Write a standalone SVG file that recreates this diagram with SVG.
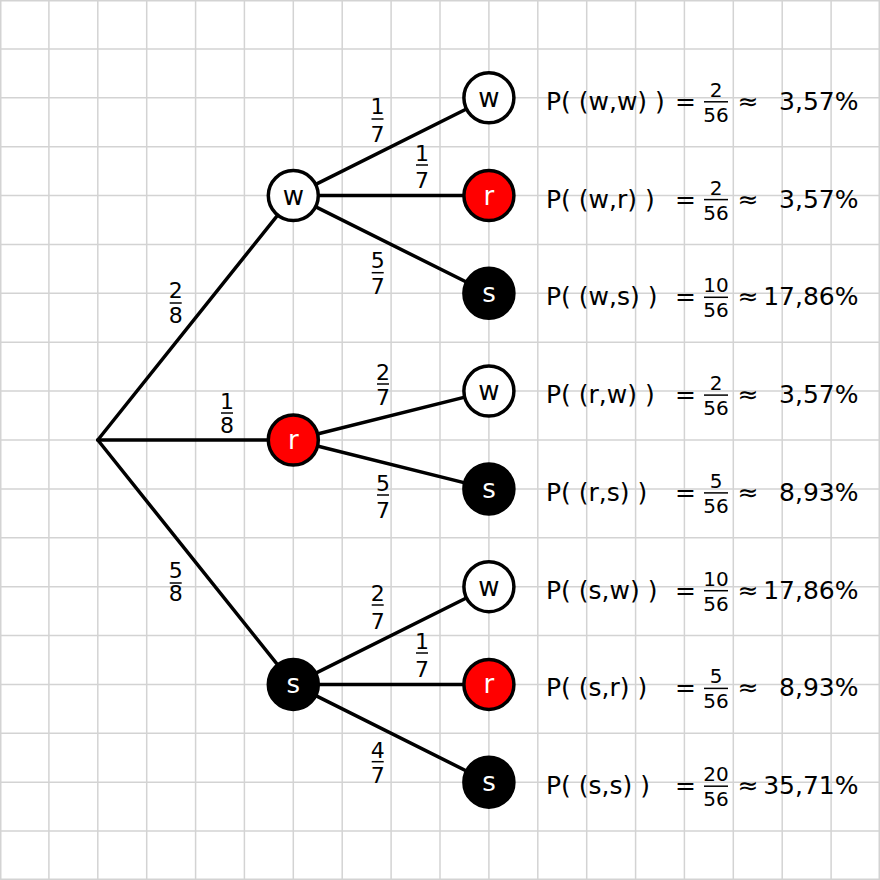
<svg xmlns="http://www.w3.org/2000/svg" width="880" height="880" viewBox="0 0 880 880">
<style>
.grid line{stroke:#d3d3d3;stroke-width:1.5}
.edges line{stroke:#000;stroke-width:3.5;stroke-linecap:round}
.bar{stroke:#000;stroke-width:1.5}
circle{stroke:#000;stroke-width:3.5}
.w{fill:#fff}.r{fill:#ff0000}.s{fill:#000}
text{font-family:"DejaVu Sans","Liberation Sans",sans-serif}
.nl{font-size:26px;text-anchor:middle}
.nlw{fill:#000}.nlc{fill:#fff}
.ef{font-size:22px;text-anchor:middle}
.rt{font-size:25px}
.rf{font-size:20px;text-anchor:middle}
.pc{font-size:25px;text-anchor:end}
.eq{font-size:25px;text-anchor:middle}
</style>
<rect width="880" height="880" fill="#fff"/>
<g class="grid">
<line x1="0.75" y1="0" x2="0.75" y2="880"/><line x1="48.9" y1="0" x2="48.9" y2="880"/><line x1="97.8" y1="0" x2="97.8" y2="880"/><line x1="146.7" y1="0" x2="146.7" y2="880"/><line x1="195.6" y1="0" x2="195.6" y2="880"/><line x1="244.4" y1="0" x2="244.4" y2="880"/><line x1="293.3" y1="0" x2="293.3" y2="880"/><line x1="342.2" y1="0" x2="342.2" y2="880"/><line x1="391.1" y1="0" x2="391.1" y2="880"/><line x1="440" y1="0" x2="440" y2="880"/><line x1="488.9" y1="0" x2="488.9" y2="880"/><line x1="537.8" y1="0" x2="537.8" y2="880"/><line x1="586.7" y1="0" x2="586.7" y2="880"/><line x1="635.6" y1="0" x2="635.6" y2="880"/><line x1="684.4" y1="0" x2="684.4" y2="880"/><line x1="733.3" y1="0" x2="733.3" y2="880"/><line x1="782.2" y1="0" x2="782.2" y2="880"/><line x1="831.1" y1="0" x2="831.1" y2="880"/><line x1="879.25" y1="0" x2="879.25" y2="880"/>
<line y1="0.75" x1="0" y2="0.75" x2="880"/><line y1="48.9" x1="0" y2="48.9" x2="880"/><line y1="97.8" x1="0" y2="97.8" x2="880"/><line y1="146.7" x1="0" y2="146.7" x2="880"/><line y1="195.6" x1="0" y2="195.6" x2="880"/><line y1="244.4" x1="0" y2="244.4" x2="880"/><line y1="293.3" x1="0" y2="293.3" x2="880"/><line y1="342.2" x1="0" y2="342.2" x2="880"/><line y1="391.1" x1="0" y2="391.1" x2="880"/><line y1="440" x1="0" y2="440" x2="880"/><line y1="488.9" x1="0" y2="488.9" x2="880"/><line y1="537.8" x1="0" y2="537.8" x2="880"/><line y1="586.7" x1="0" y2="586.7" x2="880"/><line y1="635.6" x1="0" y2="635.6" x2="880"/><line y1="684.4" x1="0" y2="684.4" x2="880"/><line y1="733.3" x1="0" y2="733.3" x2="880"/><line y1="782.2" x1="0" y2="782.2" x2="880"/><line y1="831.1" x1="0" y2="831.1" x2="880"/><line y1="879.25" x1="0" y2="879.25" x2="880"/>
</g>
<g class="edges">
<line x1="97.8" y1="440" x2="293.3" y2="195.6"/>
<line x1="97.8" y1="440" x2="293.3" y2="440"/>
<line x1="97.8" y1="440" x2="293.3" y2="684.4"/>
<line x1="293.3" y1="195.6" x2="488.9" y2="97.8"/>
<line x1="293.3" y1="195.6" x2="488.9" y2="195.6"/>
<line x1="293.3" y1="195.6" x2="488.9" y2="293.3"/>
<line x1="293.3" y1="440" x2="488.9" y2="391.1"/>
<line x1="293.3" y1="440" x2="488.9" y2="488.9"/>
<line x1="293.3" y1="684.4" x2="488.9" y2="586.7"/>
<line x1="293.3" y1="684.4" x2="488.9" y2="684.4"/>
<line x1="293.3" y1="684.4" x2="488.9" y2="782.2"/>
</g>
<g id="edge-labels">
<g><text class="ef" x="377.5" y="113.5">1</text><line class="bar" x1="371.5" y1="119" x2="383.5" y2="119"/><text class="ef" x="377.5" y="141.5">7</text></g>
<g><text class="ef" x="422" y="160.5">1</text><line class="bar" x1="416" y1="165" x2="428" y2="165"/><text class="ef" x="422" y="187.5">7</text></g>
<g><text class="ef" x="377.7" y="267.7">5</text><line class="bar" x1="371.7" y1="272.7" x2="383.7" y2="272.7"/><text class="ef" x="377.7" y="294">7</text></g>
<g><text class="ef" x="175.7" y="298">2</text><line class="bar" x1="169.7" y1="303" x2="181.7" y2="303"/><text class="ef" x="175.7" y="323">8</text></g>
<g><text class="ef" x="227" y="409">1</text><line class="bar" x1="221" y1="413" x2="233" y2="413"/><text class="ef" x="227" y="433">8</text></g>
<g><text class="ef" x="175.7" y="578">5</text><line class="bar" x1="169.7" y1="583" x2="181.7" y2="583"/><text class="ef" x="175.7" y="601">8</text></g>
<g><text class="ef" x="383" y="380">2</text><line class="bar" x1="377" y1="384" x2="389" y2="384"/><text class="ef" x="383" y="405">7</text></g>
<g><text class="ef" x="383" y="491">5</text><line class="bar" x1="377" y1="495" x2="389" y2="495"/><text class="ef" x="383" y="518">7</text></g>
<g><text class="ef" x="377.7" y="601">2</text><line class="bar" x1="371.7" y1="605" x2="383.7" y2="605"/><text class="ef" x="377.7" y="629">7</text></g>
<g><text class="ef" x="422" y="649">1</text><line class="bar" x1="416" y1="653" x2="428" y2="653"/><text class="ef" x="422" y="676.5">7</text></g>
<g><text class="ef" x="377.7" y="757.5">4</text><line class="bar" x1="371.7" y1="761.7" x2="383.7" y2="761.7"/><text class="ef" x="377.7" y="783">7</text></g>
</g>
<g id="n-w"><circle class="w" cx="293.3" cy="195.6" r="25"/><text class="nl nlw" x="293.3" y="204.5">w</text></g>
<g id="n-r"><circle class="r" cx="293.3" cy="440" r="25"/><text class="nl nlc" x="293.3" y="449">r</text></g>
<g id="n-s"><circle class="s" cx="293.3" cy="684.4" r="25"/><text class="nl nlc" x="293.3" y="693.4">s</text></g>
<g id="n-ww"><circle class="w" cx="488.9" cy="97.8" r="25"/><text class="nl nlw" x="488.9" y="106.8">w</text></g>
<g id="n-wr"><circle class="r" cx="488.9" cy="195.6" r="25"/><text class="nl nlc" x="488.9" y="204.6">r</text></g>
<g id="n-ws"><circle class="s" cx="488.9" cy="293.3" r="25"/><text class="nl nlc" x="488.9" y="302.3">s</text></g>
<g id="n-rw"><circle class="w" cx="488.9" cy="391.1" r="25"/><text class="nl nlw" x="488.9" y="400.1">w</text></g>
<g id="n-rs"><circle class="s" cx="488.9" cy="488.9" r="25"/><text class="nl nlc" x="488.9" y="497.9">s</text></g>
<g id="n-sw"><circle class="w" cx="488.9" cy="586.7" r="25"/><text class="nl nlw" x="488.9" y="595.7">w</text></g>
<g id="n-sr"><circle class="r" cx="488.9" cy="684.4" r="25"/><text class="nl nlc" x="488.9" y="693.4">r</text></g>
<g id="n-ss"><circle class="s" cx="488.9" cy="782.2" r="25"/><text class="nl nlc" x="488.9" y="791.2">s</text></g>
<g id="results">
<g transform="translate(0,97.8)"><text class="rt" x="546" y="12">P( (w,w) )</text><text class="eq" x="685.5" y="12">=</text><text class="rf" x="716" y="-1">2</text><line class="bar" x1="704" y1="4" x2="728" y2="4"/><text class="rf" x="716" y="24">56</text><text class="eq" x="748" y="12">≈</text><text class="pc" x="858.5" y="12">3,57%</text></g>
<g transform="translate(0,195.6)"><text class="rt" x="546" y="12">P( (w,r) )</text><text class="eq" x="685.5" y="12">=</text><text class="rf" x="716" y="-1">2</text><line class="bar" x1="704" y1="4" x2="728" y2="4"/><text class="rf" x="716" y="24">56</text><text class="eq" x="748" y="12">≈</text><text class="pc" x="858.5" y="12">3,57%</text></g>
<g transform="translate(0,293.3)"><text class="rt" x="546" y="12">P( (w,s) )</text><text class="eq" x="685.5" y="12">=</text><text class="rf" x="716" y="-1">10</text><line class="bar" x1="704" y1="4" x2="728" y2="4"/><text class="rf" x="716" y="24">56</text><text class="eq" x="748" y="12">≈</text><text class="pc" x="858.5" y="12">17,86%</text></g>
<g transform="translate(0,391.1)"><text class="rt" x="546" y="12">P( (r,w) )</text><text class="eq" x="685.5" y="12">=</text><text class="rf" x="716" y="-1">2</text><line class="bar" x1="704" y1="4" x2="728" y2="4"/><text class="rf" x="716" y="24">56</text><text class="eq" x="748" y="12">≈</text><text class="pc" x="858.5" y="12">3,57%</text></g>
<g transform="translate(0,488.9)"><text class="rt" x="546" y="12">P( (r,s) )</text><text class="eq" x="685.5" y="12">=</text><text class="rf" x="716" y="-1">5</text><line class="bar" x1="704" y1="4" x2="728" y2="4"/><text class="rf" x="716" y="24">56</text><text class="eq" x="748" y="12">≈</text><text class="pc" x="858.5" y="12">8,93%</text></g>
<g transform="translate(0,586.7)"><text class="rt" x="546" y="12">P( (s,w) )</text><text class="eq" x="685.5" y="12">=</text><text class="rf" x="716" y="-1">10</text><line class="bar" x1="704" y1="4" x2="728" y2="4"/><text class="rf" x="716" y="24">56</text><text class="eq" x="748" y="12">≈</text><text class="pc" x="858.5" y="12">17,86%</text></g>
<g transform="translate(0,684.4)"><text class="rt" x="546" y="12">P( (s,r) )</text><text class="eq" x="685.5" y="12">=</text><text class="rf" x="716" y="-1">5</text><line class="bar" x1="704" y1="4" x2="728" y2="4"/><text class="rf" x="716" y="24">56</text><text class="eq" x="748" y="12">≈</text><text class="pc" x="858.5" y="12">8,93%</text></g>
<g transform="translate(0,782.2)"><text class="rt" x="546" y="12">P( (s,s) )</text><text class="eq" x="685.5" y="12">=</text><text class="rf" x="716" y="-1">20</text><line class="bar" x1="704" y1="4" x2="728" y2="4"/><text class="rf" x="716" y="24">56</text><text class="eq" x="748" y="12">≈</text><text class="pc" x="858.5" y="12">35,71%</text></g>
</g>
</svg>
